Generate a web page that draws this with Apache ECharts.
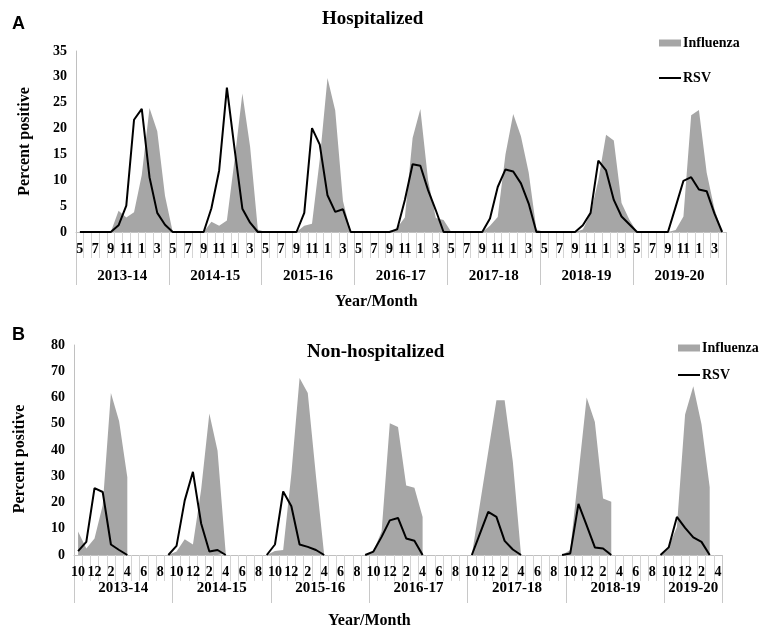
<!DOCTYPE html>
<html>
<head>
<meta charset="utf-8">
<script src="https://cdn.jsdelivr.net/npm/echarts@6/dist/echarts.min.js"></script>
<style>
  html, body { margin: 0; padding: 0; background: #fff; }
  #chart { width: 762px; height: 637px; }
</style>
</head>
<body>
<div id="chart"></div>
<script>
// seasons and month tick labels
const seasons = ['2013-14', '2014-15', '2015-16', '2016-17', '2017-18', '2018-19', '2019-20'];
const hospMonthCycle = ['5', '6', '7', '8', '9', '10', '11', '12', '1', '2', '3', '4'];
const nonHospMonthCycle = ['10', '11', '12', '1', '2', '3', '4', '5', '6', '7', '8', '9'];
const nonHospLastSeason = ['10', '11', '12', '1', '2', '3', '4'];

// A: hospitalized, May 2013 - Apr 2020
const hospFlu = [
  0, 0, 0, 0, 0, 4.1, 2.8, 3.8, 11, 24, 19.5, 7,
  0, 0, 0, 0, 0, 2.0, 1.2, 2.2, 14, 26.8, 16.5, 0.5,
  0, 0, 0, 0, 0, 1.2, 1.6, 14, 29.8, 23.5, 6, 0,
  0, 0, 0, 0, 0, 0.8, 2.8, 18.2, 23.8, 10, 2.7, 2.3,
  0, 0, 0, 0, 0, 1.2, 2.9, 15, 22.8, 18.5, 11.5, 0.5,
  0, 0, 0, 0, 0, 0.5, 3.6, 10, 18.8, 17.7, 5.6, 2.4,
  0, 0, 0, 0, 0, 0.4, 3, 22.6, 23.6, 11.5, 4.5, 0
];
const hospRSV = [
  0, 0, 0, 0, 0, 1.3, 5.1, 21.7, 23.8, 10.6, 3.7, 1.4,
  0, 0, 0, 0, 0, 4.6, 11.9, 27.9, 16, 4.5, 1.8, 0,
  0, 0, 0, 0, 0, 3.7, 20.1, 16.9, 7.1, 3.9, 4.4, 0,
  0, 0, 0, 0, 0, 0.5, 6.2, 13.1, 12.8, 8.1, 4.2, 0,
  0, 0, 0, 0, 0, 2.6, 8.7, 12.1, 11.7, 9.4, 5.5, 0,
  0, 0, 0, 0, 0, 1.3, 3.7, 13.8, 11.9, 6.2, 3.0, 1.5,
  0, 0, 0, 0, 0, 4.9, 9.9, 10.6, 8.2, 7.9, 3.6, 0
];

// B: non-hospitalized, Oct 2013 - Apr 2020
const nonHospFlu = [
  9, 2.5, 6.3, 19, 61.7, 51, 29.6, null, null, null, null, 0,
  1.3, 6, 4, 25, 53.9, 39.7, 0.5, null, null, null, null, 0,
  1.5, 1.9, 31, 67.4, 61.7, 30, 0, null, null, null, null, 0,
  1.5, 9, 50.2, 48.8, 26.5, 25.6, 14.5, null, null, null, null, null,
  0, 19.6, 39.3, 59, 59, 35.5, 0, null, null, null, null, 0,
  1.9, 30.9, 60, 50.7, 21.5, 20.3, null, null, null, null, null, 0,
  3.1, 10.7, 53.5, 64.3, 49.8, 25.8, null
];
const nonHospRSV = [
  1.5, 5, 25.5, 24, 4, 1.9, 0, null, null, null, null, 0,
  3.5, 20.8, 31.7, 12, 1.3, 1.9, 0, null, null, null, null, 0,
  4, 24.2, 18.6, 4, 3.1, 1.9, 0, null, null, null, null, 0,
  1.3, 6.9, 13.2, 14.1, 6.3, 5.4, 0, null, null, null, null, null,
  0, 8.2, 16.4, 14.5, 5.4, 2.1, 0, null, null, null, null, 0,
  0.6, 19.5, 11.3, 2.9, 2.5, 0, null, null, null, null, null, 0,
  2.9, 14.5, 10.3, 6.7, 5.0, 0, null
];

const hospMonths = seasons.flatMap(() => hospMonthCycle);
const nonHospMonths = seasons.slice(0, 6).flatMap(() => nonHospMonthCycle).concat(nonHospLastSeason);

const serif = 'Liberation Serif';
const grey = '#a6a6a6';
const txt = { color: '#000', fontFamily: serif, fontWeight: 'bold' };

function monthAxis(gridIndex, data, tickLen) {
  return {
    type: 'category', gridIndex: gridIndex, data: data, boundaryGap: true,
    axisLine: { lineStyle: { color: '#c0c0c0', width: 1 } },
    axisTick: { show: true, interval: 0, length: tickLen, lineStyle: { color: '#d4d4d4' } },
    axisLabel: Object.assign({ interval: 1, margin: 10, fontSize: 14 }, txt),
    splitLine: { show: false }
  };
}

function seasonAxis(gridIndex, count, tickLen, margin) {
  const ids = [];
  for (let i = 0; i < count; i++) ids.push('m' + i);
  const lastStart = 72;
  const lastLen = count - lastStart;
  // label sits in the middle of each season's months
  const isMid = (i) => {
    if (i < lastStart) return i % 12 === 6;
    return lastLen === 12 ? i - lastStart === 6 : i - lastStart === Math.floor(lastLen / 2);
  };
  const shifted = (i) => i < lastStart || lastLen % 2 === 0;
  return {
    type: 'category', gridIndex: gridIndex, data: ids, position: 'bottom',
    axisLine: { show: false },
    axisTick: { show: true, length: tickLen, interval: (i) => i % 12 === 0, lineStyle: { color: '#c8c8c8' } },
    axisLabel: Object.assign({
      margin: margin, fontSize: 15,
      interval: (i) => isMid(i),
      formatter: (v, i) => {
        const s = seasons[Math.floor(i / 12)];
        // even-length seasons: centre sits between two months, shift half a band
        return shifted(i) ? '{s|' + s + '}' : s;
      },
      rich: { s: Object.assign({ fontSize: 15, padding: [0, 8, 0, 0] }, txt) }
    }, txt)
  };
}

function valueAxis(gridIndex, max, interval, nameGap, namePad) {
  return {
    type: 'value', gridIndex: gridIndex, min: 0, max: max, interval: interval,
    axisLine: { show: true, lineStyle: { color: '#c0c0c0' } },
    axisTick: { show: false },
    splitLine: { show: false },
    axisLabel: Object.assign({ margin: 9, fontSize: 14 }, txt),
    name: 'Percent positive', nameLocation: 'middle', nameGap: nameGap,
    nameTextStyle: Object.assign({ fontSize: 16, padding: namePad }, txt)
  };
}

function fluSeries(x, y, data) {
  return {
    name: 'Influenza', type: 'line', xAxisIndex: x, yAxisIndex: y, data: data,
    symbol: 'none', connectNulls: false,
    lineStyle: { width: 0, color: grey }, itemStyle: { color: grey },
    areaStyle: { color: grey, opacity: 1 }
  };
}
function rsvSeries(x, y, data) {
  return {
    name: 'RSV', type: 'line', xAxisIndex: x, yAxisIndex: y, data: data,
    symbol: 'none', connectNulls: false, z: 3,
    lineStyle: { width: 2, color: '#000' }, itemStyle: { color: '#000' }
  };
}

const legendBase = {
  orient: 'vertical', itemWidth: 22, itemHeight: 7, selectedMode: false,
  textStyle: Object.assign({ fontSize: 14, padding: [0, 0, 0, -3] }, txt),
  data: [
    { name: 'Influenza', icon: 'rect' },
    { name: 'RSV', itemStyle: { opacity: 0 } }
  ]
};

const myChart = echarts.init(document.getElementById('chart'));
myChart.setOption({
  animation: false,
  backgroundColor: '#fff',
  title: [
    { text: 'A', left: 12, top: 15, padding: 0, textStyle: { fontFamily: 'Liberation Sans', fontWeight: 'bold', fontSize: 18, color: '#000' } },
    { text: 'Hospitalized', left: 322, top: 10, padding: 0, textStyle: Object.assign({ fontSize: 19 }, txt) },
    { text: 'Year/Month', left: 335, top: 294, padding: 0, textStyle: Object.assign({ fontSize: 16 }, txt) },
    { text: 'B', left: 12, top: 326, padding: 0, textStyle: { fontFamily: 'Liberation Sans', fontWeight: 'bold', fontSize: 18, color: '#000' } },
    { text: 'Non-hospitalized', left: 307, top: 343, padding: 0, textStyle: Object.assign({ fontSize: 19 }, txt) },
    { text: 'Year/Month', left: 328, top: 613, padding: 0, textStyle: Object.assign({ fontSize: 16 }, txt) }
  ],
  legend: [
    Object.assign({ left: 653, top: 31, itemGap: 21 }, legendBase),
    Object.assign({ left: 672, top: 336, itemGap: 13 }, legendBase)
  ],
  grid: [
    { left: 76, right: 36, top: 51, bottom: 405 },
    { left: 74, right: 40, top: 345, bottom: 82 }
  ],
  xAxis: [
    monthAxis(0, hospMonths, 26),
    seasonAxis(0, hospMonths.length, 53, 37),
    monthAxis(1, nonHospMonths, 26),
    seasonAxis(1, nonHospMonths.length, 48, 26)
  ],
  yAxis: [
    valueAxis(0, 35, 5, 43, 0),
    valueAxis(1, 80, 10, 46, [0, 18, 0, 0])
  ],
  series: [
    fluSeries(0, 0, hospFlu),
    rsvSeries(0, 0, hospRSV),
    fluSeries(2, 1, nonHospFlu),
    rsvSeries(2, 1, nonHospRSV)
  ]
});
window.addEventListener('resize', () => { if (myChart) myChart.resize(); });
</script>
</body>
</html>
